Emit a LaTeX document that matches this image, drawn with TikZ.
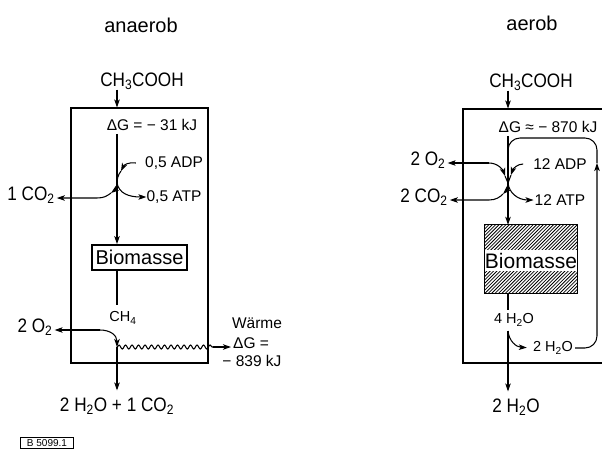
\documentclass[tikz,border=0pt]{standalone}
\usepackage{fontspec}
\setmainfont{Liberation Sans}
\newfontfamily\nfont{Liberation Sans}[FakeStretch=0.88]
\usetikzlibrary{arrows.meta,decorations.pathmorphing}
\tikzset{
 txt/.style={inner sep=0pt},
 big/.style={txt, font=\nfont\fontsize{19.5}{21}\selectfont},
 med/.style={txt, font=\fontsize{15.5}{17}\selectfont},
 sml/.style={txt, font=\fontsize{14.5}{16}\selectfont},
 ttl/.style={txt, font=\fontsize{20}{22}\selectfont},
 ln/.style={line width=1.05pt},
 tipend/.style={-{Stealth[length=8pt,width=5.5pt,inset=2pt]}},
 tipstart/.style={{Stealth[length=8pt,width=5.5pt,inset=2pt]}-},
 wave/.style={decorate, decoration={snake, amplitude=2pt, segment length=6.5pt}},
 hatch/.style={line width=0.8pt},
}
\begin{document}
\begin{tikzpicture}[x=1pt,y=-1pt]
\useasboundingbox (0,0) rectangle (602,451);
\clip (0,0) rectangle (602,451);

% ================= anaerob =================
\node[ttl] (tA) at (141,25) {anaerob};
\node[big] (acA) at (142,81) {CH\textsubscript{3}COOH};
\node[draw, ln, minimum width=137pt, minimum height=255pt, inner sep=0pt] (boxA) at (139.5,235.5) {};
\coordinate (jA) at (117,183);
\draw[ln, tipend] (acA.south -| jA) -- (boxA.north -| jA);
\node[med] (dgA) at (152,125) {ΔG = − 31 kJ};
\node[txt, font=\fontsize{20}{22}\selectfont, draw, line width=1.8pt, minimum width=95pt, minimum height=25pt] (bmA) at (139.5,257.5) {Biomasse};
\draw[ln, tipend, shorten <=3pt] (dgA.south -| jA) -- (bmA.north -| jA);
\node[med] (adpA) at (174,163) {0,5 ADP};
\node[med] (atpA) at (174,197) {0,5 ATP};
\node[big, anchor=mid] (co2A) at (31,198) {1 CO\textsubscript{2}};
% ADP in
\coordinate (mA1) at (121,171);
\draw[ln, tipend] ([xshift=-9pt]adpA.west) .. controls (128,162) and (124,165) .. (mA1);
\draw[ln] (mA1) .. controls (118,175) and (117,179) .. (jA);
% ATP out
\draw[ln, tipend] (jA) .. controls (119,193) and (128,197) .. (atpA.west);
% CO2 out
\coordinate (mA2) at (111,193);
\coordinate (cA) at (97,198);
\draw[ln, tipend] (jA) .. controls (117,187) and (115,190) .. (mA2);
\draw[ln, tipend] (mA2) .. controls (107,196) and (104,198) .. (cA) -- ([xshift=2pt]co2A.mid east);

\node[big, anchor=mid] (o2A) at (35,330) {2 O\textsubscript{2}};
\node[sml] (ch4A) at (123,318) {CH\textsubscript{4}};
\coordinate (jB) at (117,347);
\coordinate (cB) at (100,330);
\draw[ln, shorten >=7pt] (bmA.south -| jA) -- (ch4A.north -| jA);
\draw[ln, tipstart] ([xshift=2pt]o2A.mid east) -- (cB);
\draw[ln, tipend] (cB) .. controls (110,330) and (117,335) .. (jB);
\node[med] (w1) at (257,323) {Wärme};
\node[med, anchor=west] (w2) at (233,343) {ΔG =};
\node[med] (w3) at (252,361) {− 839 kJ};
\coordinate (wEnd) at (213,347);
\draw[ln, wave] (jB) -- (wEnd);
\draw[ln, tipend, shorten >=2pt] (wEnd) -- (wEnd -| w2.west);
\node[big] (prodA) at (117,406) {2 H\textsubscript{2}O + 1 CO\textsubscript{2}};
\draw[ln, tipend, shorten >=7pt] (jB) -- (prodA.north -| jB);
\node[draw, line width=0.6pt, inner sep=0pt, minimum width=53pt, minimum height=11pt, font=\fontsize{10}{11}\selectfont] (ref) at (47,443) {B 5099.1};

% ================= aerob =================
\node[ttl] (tB) at (532,23) {aerob};
\node[big] (acB) at (531,82) {CH\textsubscript{3}COOH};
\node[draw, ln, minimum width=160pt, minimum height=254pt, inner sep=0pt] (boxB) at (543,236) {};
\coordinate (jC) at (508,183);
\draw[ln, tipend] (acB.south -| jC) -- (boxB.north -| jC);
\node[med] (dgB) at (548,127) {ΔG ≈ − 870 kJ};

\node[minimum width=92pt, minimum height=68pt, inner sep=0pt] (bmBox) at (531,259) {};
\begin{scope}
\clip (bmBox.north west) rectangle ([yshift=10pt]bmBox.east);
\foreach \i in {400,403.4,...,600} \draw[hatch] (\i,300) -- (\i+80,220);
\end{scope}
\begin{scope}
\clip ([yshift=-12pt]bmBox.west) rectangle (bmBox.south east);
\foreach \i in {400,403.4,...,600} \draw[hatch] (\i,300) -- (\i+80,220);
\end{scope}
\draw[ln] (bmBox.north west) rectangle (bmBox.south east);
\node[txt, font=\fontsize{21}{23}\selectfont] (bmB) at (531,261) {Biomasse};
\draw[ln, tipend, shorten <=3pt] (dgB.south -| jC) -- (bmBox.north -| jC);

\node[big, anchor=mid] (o2B) at (428,163) {2 O\textsubscript{2}};
\node[big, anchor=mid] (co2B) at (424,200) {2 CO\textsubscript{2}};
\node[med] (adpB) at (560,164) {12 ADP};
\node[med] (atpB) at (560,200) {12 ATP};
% O2 in
\coordinate (cC1) at (489,163);
\coordinate (mC1) at (505,176);
\draw[ln, tipstart, shorten <=2pt] (o2B.mid east) -- (cC1);
\draw[ln, tipend] (cC1) .. controls (498,163) and (503,170) .. (mC1);
\draw[ln] (mC1) -- (jC);
% ADP in
\coordinate (mC2) at (511,175);
\draw[ln, tipend] ([xshift=-10pt]adpB.west) .. controls (517,164) and (513,169) .. (mC2);
\draw[ln] (mC2) -- (jC);
% CO2 out
\coordinate (mC3) at (503,194);
\coordinate (cC3) at (489,200);
\draw[ln, tipend] (jC) .. controls (508,188) and (506,191) .. (mC3);
\draw[ln, tipend, shorten >=2pt] (mC3) .. controls (500,197) and (496,200) .. (cC3) -- (co2B.mid east);
% ATP out
\draw[ln, tipend, shorten >=1pt] (jC) .. controls (509,193) and (518,200) .. (atpB.west);

\node[sml] (h4B) at (514,320) {4 H\textsubscript{2}O};
\node[sml] (h2B) at (553,348) {2 H\textsubscript{2}O};
\node[big] (pB) at (516,407) {2 H\textsubscript{2}O};
\coordinate (jD) at (508,331);
\draw[ln, shorten >=4pt] (bmBox.south -| jD) -- (h4B.north -| jD);
\draw[ln, tipend, shorten >=7pt] (jD) -- (pB.north -| jD);
\draw[ln, tipend, shorten >=6pt] (jD) .. controls (509,341) and (516,347) .. (h2B.west);
% recycle loop
\coordinate (lc1) at (597,348);
\coordinate (mL) at (597,163);
\coordinate (lc2) at (597,138);
\coordinate (lc3) at (508,138);
\coordinate (jE) at (508,160);
\draw[ln, rounded corners=12pt, tipend] ([xshift=2pt]h2B.east) -- (lc1) -- (mL);
\draw[ln, rounded corners=12pt] (mL) -- (lc2) -- (lc3) -- (jE);
\end{tikzpicture}
\end{document}
